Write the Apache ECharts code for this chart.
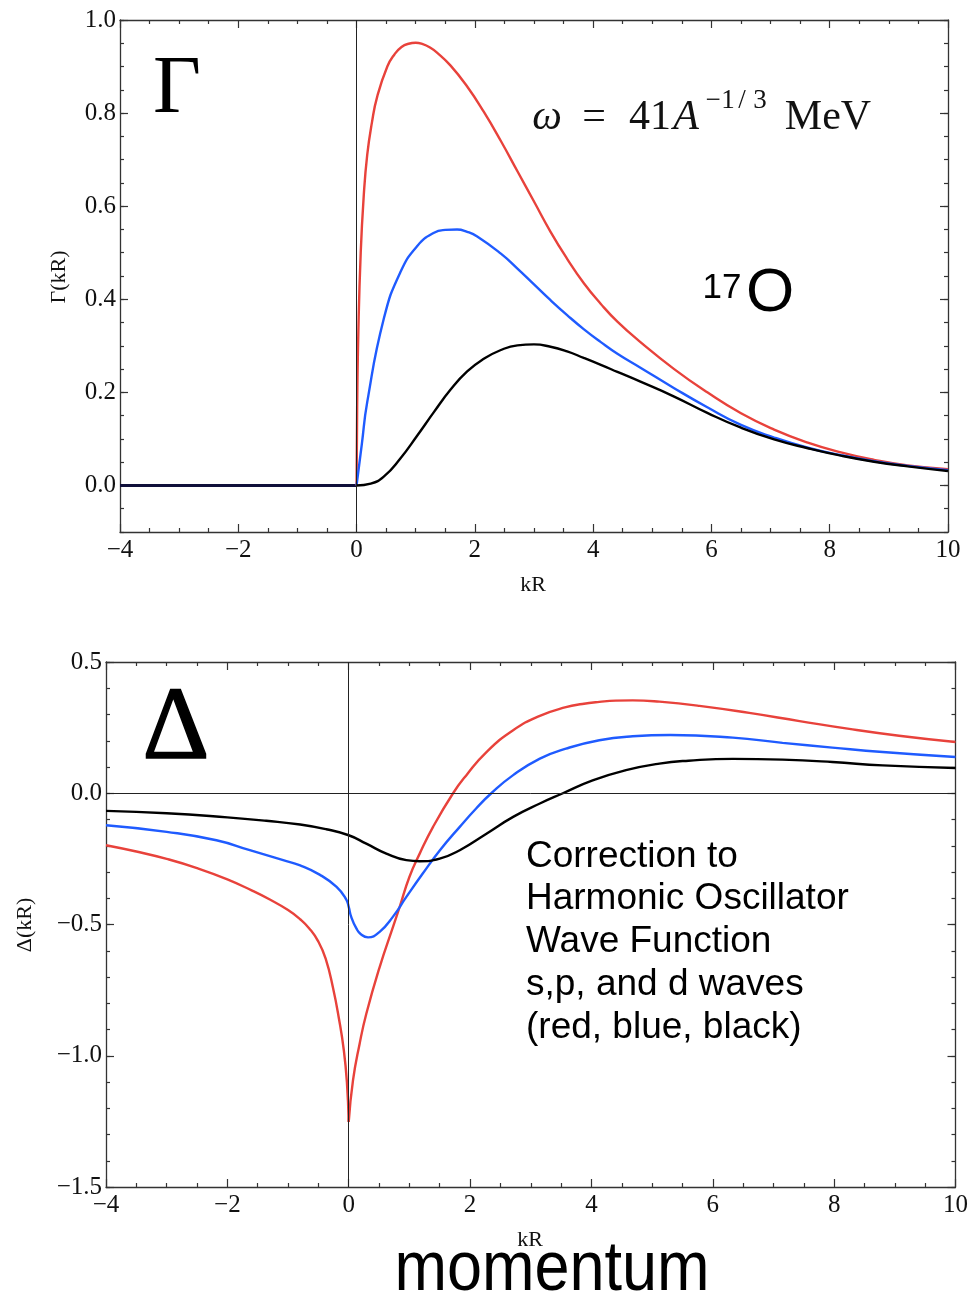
<!DOCTYPE html>
<html><head><meta charset="utf-8">
<script src="https://cdn.jsdelivr.net/npm/echarts@6/dist/echarts.min.js"></script>
<style>html,body{margin:0;padding:0;background:#fff}#c{width:971px;height:1295px}</style>
</head><body><div id="c"></div>
<script>
// ---------- data ----------
const xMajorTicks = [-4, -2, 0, 2, 4, 6, 8, 10];
const gammaMajorTicks = [0, 0.2, 0.4, 0.6, 0.8, 1.0];
const deltaMajorTicks = [-1.5, -1.0, -0.5, 0, 0.5];

// Gamma(kR): zero for kR < 0
const gammaNegK = [-4, 0];
const gammaNegV = [0, 0];
const gammaRedK = [0, 0.01, 0.03, 0.07, 0.12, 0.18, 0.26, 0.35, 0.52, 0.64, 0.76, 0.88, 1.0, 1.12, 1.24, 1.36, 1.59, 1.87, 2.15, 2.44, 2.72, 3.0, 3.28, 3.56, 3.84, 4.13, 4.41, 4.8, 5.37, 5.93, 6.5, 7.06, 7.63, 8.19, 8.75, 9.32, 10];
const gammaRedV = [0, 0.17, 0.33, 0.50, 0.62, 0.71, 0.78, 0.836, 0.90, 0.926, 0.942, 0.949, 0.951, 0.948, 0.941, 0.93, 0.902, 0.857, 0.803, 0.74, 0.675, 0.61, 0.545, 0.487, 0.435, 0.39, 0.352, 0.308, 0.25, 0.2, 0.155, 0.12, 0.092, 0.071, 0.055, 0.043, 0.035];
const gammaBlueK = [0, 0.09, 0.18, 0.46, 0.74, 1.03, 1.31, 1.5, 1.70, 1.87, 2.04, 2.44, 2.72, 3.0, 3.28, 3.56, 3.84, 4.13, 4.41, 4.8, 5.37, 5.93, 6.5, 7.06, 7.63, 8.19, 8.75, 9.32, 10];
const gammaBlueV = [0, 0.09, 0.179, 0.358, 0.458, 0.515, 0.543, 0.549, 0.55, 0.545, 0.535, 0.498, 0.466, 0.432, 0.398, 0.366, 0.336, 0.308, 0.283, 0.253, 0.209, 0.168, 0.130, 0.103, 0.081, 0.065, 0.052, 0.042, 0.033];
const gammaBlackK = [0, 0.24, 0.46, 0.74, 1.03, 1.31, 1.59, 1.87, 2.15, 2.44, 2.72, 3.0, 3.28, 3.56, 3.84, 4.13, 4.41, 4.8, 5.37, 5.93, 6.5, 7.06, 7.63, 8.19, 8.75, 9.32, 10];
const gammaBlackV = [0, 0.004, 0.019, 0.058, 0.108, 0.158, 0.206, 0.245, 0.272, 0.291, 0.301, 0.303, 0.298, 0.288, 0.274, 0.259, 0.244, 0.223, 0.191, 0.156, 0.124, 0.099, 0.080, 0.064, 0.051, 0.041, 0.031];

// Delta(kR)
const deltaRedLeftK = [-4, -3.5, -3, -2.5, -2, -1.6, -1.3, -1.0, -0.8, -0.65, -0.5, -0.38, -0.26, -0.16, -0.08, -0.03, 0];
const deltaRedLeftV = [-0.198, -0.222, -0.25, -0.285, -0.328, -0.37, -0.405, -0.445, -0.48, -0.515, -0.565, -0.63, -0.74, -0.86, -0.98, -1.1, -1.252];
const deltaRedRightK = [0, 0.071, 0.18, 0.29, 0.51, 0.73, 0.84, 1.0, 1.17, 1.39, 1.72, 1.94, 2.27, 2.71, 3.15, 3.58, 3.85, 4.13, 4.4, 4.68, 5.12, 5.78, 6.6, 7.43, 8.25, 9.07, 10];
const deltaRedRightV = [-1.252, -1.093, -0.954, -0.84, -0.662, -0.509, -0.433, -0.319, -0.23, -0.128, 0, 0.069, 0.157, 0.24, 0.295, 0.328, 0.340, 0.348, 0.353, 0.354, 0.349, 0.333, 0.306, 0.275, 0.245, 0.219, 0.195];
const deltaBlueK = [-4, -3, -2.18, -1.63, -1.08, -0.8, -0.48, -0.2, -0.04, 0, 0.04, 0.126, 0.2, 0.318, 0.51, 0.73, 0.95, 1.22, 1.5, 1.83, 2.1, 2.35, 2.71, 3.15, 3.58, 4.13, 4.68, 5.3, 6.33, 7.15, 7.97, 8.8, 10];
const deltaBlueV = [-0.122, -0.147, -0.179, -0.217, -0.255, -0.275, -0.31, -0.357, -0.405, -0.433, -0.47, -0.515, -0.537, -0.549, -0.528, -0.47, -0.395, -0.306, -0.218, -0.128, -0.058, 0, 0.069, 0.132, 0.17, 0.202, 0.217, 0.222, 0.212, 0.192, 0.174, 0.157, 0.138];
const deltaBlackK = [-4, -3, -2, -1.36, -0.8, -0.37, 0, 0.29, 0.62, 0.95, 1.17, 1.5, 1.83, 2.27, 2.71, 3.15, 3.53, 4.02, 4.57, 5.12, 5.6, 6.33, 7.15, 7.97, 8.8, 10];
const deltaBlackV = [-0.067, -0.076, -0.092, -0.105, -0.119, -0.137, -0.16, -0.192, -0.23, -0.255, -0.259, -0.249, -0.217, -0.154, -0.09, -0.039, 0, 0.049, 0.088, 0.113, 0.124, 0.131, 0.128, 0.119, 0.106, 0.096];

// ---------- helpers ----------
const zip = (k, v) => k.map((x, i) => [x, v[i]]);
const SERIF = '"Liberation Serif","DejaVu Serif",serif';
const SANS = '"Liberation Sans",Arial,"Helvetica",sans-serif';
const AX = '#333';
const RED = '#e8423b', BLUE = '#1f5bff', BLACK = '#000';
const minus = s => String(s).replace('-', '\u2212');
const fmtX = v => minus(v);
const fmtY = v => minus(Number(v).toFixed(1));

function xAx(grid, pos, labels) {
  return {
    type: 'value', gridIndex: grid, position: pos, min: -4, max: 10, interval: 2,
    axisLine: { show: true, onZero: false, lineStyle: { color: AX, width: 1.3 } },
    axisTick: { show: true, inside: true, length: 8, lineStyle: { color: AX, width: 1.2 } },
    minorTick: { show: true, splitNumber: 4, length: 4, lineStyle: { color: AX, width: 1.2 } },
    axisLabel: { show: labels, formatter: fmtX, fontFamily: SERIF, fontSize: 25, color: '#111', margin: 6 },
    splitLine: { show: false }, minorSplitLine: { show: false }
  };
}
function yMajor(grid, pos, min, max, ticks, labels) {
  return {
    type: 'value', gridIndex: grid, position: pos, min: min, max: max,
    axisLine: { show: true, onZero: false, lineStyle: { color: AX, width: 1.3 } },
    axisTick: { show: true, inside: true, length: 8, customValues: ticks, lineStyle: { color: AX, width: 1.2 } },
    axisLabel: { show: labels, customValues: ticks, formatter: fmtY, fontFamily: SERIF, fontSize: 25, color: '#111', margin: 4 },
    splitLine: { show: false }
  };
}
function yMinor(grid, pos, min, max, step) {
  return {
    type: 'value', gridIndex: grid, position: pos, min: min, max: max, interval: step,
    axisLine: { show: false, onZero: false },
    axisTick: { show: true, inside: true, length: 4, lineStyle: { color: AX, width: 1.2 } },
    axisLabel: { show: false }, splitLine: { show: false }
  };
}
function line(data, color, xi, yi, extra) {
  return Object.assign({
    type: 'line', data: data, xAxisIndex: xi, yAxisIndex: yi, showSymbol: false, symbol: 'none',
    smooth: 0.5, lineStyle: { color: color, width: 2.4 }, silent: true, z: 3
  }, extra || {});
}
const zeroLineStyle = { color: '#222', width: 1, type: 'solid' };
function txt(x, y, text, font, extra) {
  return Object.assign({ type: 'text', x: x, y: y, silent: true,
    style: { text: text, font: font, fill: '#111', align: 'center', verticalAlign: 'middle' } }, extra || {});
}

const chart = echarts.init(document.getElementById('c'), null, { renderer: 'canvas' });
chart.setOption({
  animation: false,
  backgroundColor: '#fff',
  grid: [
    { left: 120, top: 20, width: 828, height: 512 },
    { left: 106, top: 662, width: 850, height: 525 }
  ],
  xAxis: [xAx(0, 'bottom', true), xAx(0, 'top', false), xAx(1, 'bottom', true), xAx(1, 'top', false)],
  yAxis: [
    yMajor(0, 'left', -0.1, 1.0, gammaMajorTicks, true),
    yMinor(0, 'left', -0.1, 1.0, 0.05),
    yMajor(0, 'right', -0.1, 1.0, gammaMajorTicks, false),
    yMinor(0, 'right', -0.1, 1.0, 0.05),
    yMajor(1, 'left', -1.5, 0.5, deltaMajorTicks, true),
    yMinor(1, 'left', -1.5, 0.5, 0.1),
    yMajor(1, 'right', -1.5, 0.5, deltaMajorTicks, false),
    yMinor(1, 'right', -1.5, 0.5, 0.1)
  ],
  series: [
    // top panel
    line(zip(gammaNegK, gammaNegV), '#10103a', 0, 0, {
      smooth: false, lineStyle: { color: '#10103a', width: 3 }, z: 2,
      markLine: { silent: true, symbol: 'none', label: { show: false }, lineStyle: zeroLineStyle, data: [{ xAxis: 0 }] }
    }),
    line(zip(gammaRedK, gammaRedV), RED, 0, 0),
    line(zip(gammaBlueK, gammaBlueV), BLUE, 0, 0),
    line(zip(gammaBlackK, gammaBlackV), BLACK, 0, 0),
    // bottom panel
    line(zip(deltaRedLeftK, deltaRedLeftV), RED, 2, 4, {
      markLine: { silent: true, symbol: 'none', label: { show: false }, lineStyle: zeroLineStyle, data: [{ xAxis: 0 }, { yAxis: 0 }] }
    }),
    line(zip(deltaRedRightK, deltaRedRightV), RED, 2, 4),
    line(zip(deltaBlueK, deltaBlueV), BLUE, 2, 4),
    line(zip(deltaBlackK, deltaBlackV), BLACK, 2, 4)
  ],
  graphic: [
    // top panel annotations
    { type: 'text', x: 177, y: 90, silent: true, style: { text: 'Γ', font: '83px ' + SERIF, fill: '#000', align: 'center', verticalAlign: 'middle' } },
    txt(547, 118, 'ω', 'italic 42px ' + SERIF),
    txt(594, 118, '=', '42px ' + SERIF),
    txt(650, 118, '41', '42px ' + SERIF),
    txt(686, 118, 'A', 'italic 42px ' + SERIF),
    txt(713, 101, '\u2212', '27px ' + SERIF),
    txt(728, 101, '1', '27px ' + SERIF),
    txt(742, 101, '/', '27px ' + SERIF),
    txt(760, 101, '3', '27px ' + SERIF),
    txt(828, 118, 'MeV', '42px ' + SERIF),
    { type: 'text', x: 722, y: 288, silent: true, style: { text: '17', font: '35px ' + SANS, fill: '#000', align: 'center', verticalAlign: 'middle' } },
    { type: 'text', x: 770, y: 294, silent: true, style: { text: 'O', font: '62px ' + SANS, fill: '#000', align: 'center', verticalAlign: 'middle' } },
    txt(59, 277, 'Γ(kR)', '22px ' + SERIF, { rotation: Math.PI / 2 }),
    txt(533, 585, 'kR', '22px ' + SERIF),
    // bottom panel annotations
    { type: 'text', x: 176, y: 731, silent: true, style: { text: 'Δ', font: '104px ' + SERIF, fill: '#000', stroke: '#000', lineWidth: 1.5, align: 'center', verticalAlign: 'middle' } },
    txt(25, 925, 'Δ(kR)', '22px ' + SERIF, { rotation: Math.PI / 2 }),
    txt(530, 1240, 'kR', '22px ' + SERIF),
    { type: 'text', x: 526, y: 857, silent: true, style: { text: 'Correction to', font: '37px ' + SANS, fill: '#000', align: 'left', verticalAlign: 'middle' } },
    { type: 'text', x: 526, y: 899, silent: true, style: { text: 'Harmonic Oscillator', font: '37px ' + SANS, fill: '#000', align: 'left', verticalAlign: 'middle' } },
    { type: 'text', x: 526, y: 942, silent: true, style: { text: 'Wave Function', font: '37px ' + SANS, fill: '#000', align: 'left', verticalAlign: 'middle' } },
    { type: 'text', x: 526, y: 985, silent: true, style: { text: 's,p, and d waves', font: '37px ' + SANS, fill: '#000', align: 'left', verticalAlign: 'middle' } },
    { type: 'text', x: 526, y: 1028, silent: true, style: { text: '(red, blue, black)', font: '37px ' + SANS, fill: '#000', align: 'left', verticalAlign: 'middle' } },
    { type: 'text', x: 552, y: 1271, scaleX: 0.9, silent: true, style: { text: 'momentum', font: '70px ' + SANS, fill: '#000', align: 'center', verticalAlign: 'middle' } }
  ]
});
</script>
</body></html>
